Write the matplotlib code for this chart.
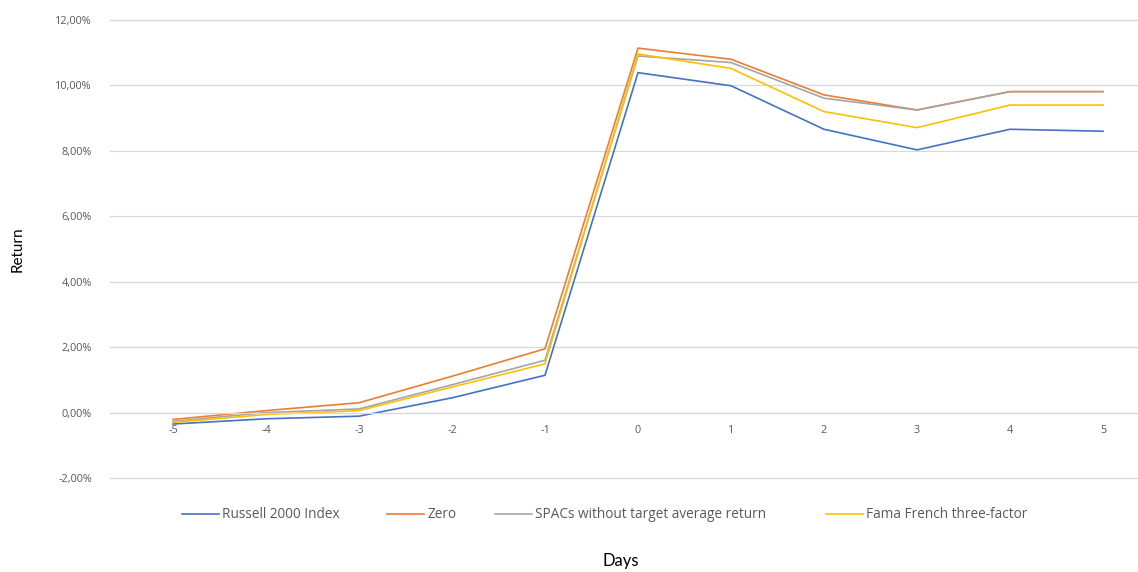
import matplotlib
matplotlib.use("Agg")
import matplotlib.pyplot as plt
from matplotlib.lines import Line2D
from matplotlib.ticker import FuncFormatter

days = [-5, -4, -3, -2, -1, 0, 1, 2, 3, 4, 5]

russell_2000 = [-0.35, -0.19, -0.11, 0.45, 1.14, 10.39, 9.99, 8.66, 8.03, 8.66, 8.60]
zero_model = [-0.21, 0.06, 0.30, 1.11, 1.95, 11.14, 10.80, 9.71, 9.25, 9.81, 9.81]
spacs_no_target = [-0.27, 0.00, 0.11, 0.85, 1.60, 10.90, 10.70, 9.61, 9.25, 9.81, 9.81]
fama_french = [-0.30, -0.06, 0.06, 0.78, 1.49, 10.96, 10.52, 9.20, 8.71, 9.40, 9.40]

series_labels = ["Russell 2000 Index", "Zero",
                 "SPACs without target average return", "Fama French three-factor"]
series_colors = ["#4472C4", "#ED7D31", "#A5A5A5", "#FFC000"]
y_ticks = [-2, 0, 2, 4, 6, 8, 10, 12]

plt.rcParams["font.family"] = ["Open Sans", "DejaVu Sans"]

fig = plt.figure(figsize=(11.38, 5.72), dpi=100)
ax = fig.add_axes([110 / 1138, (572 - 478) / 572, (1138 - 110) / 1138, (478 - 20) / 572])

for vals, lab, col in zip([russell_2000, zero_model, spacs_no_target, fama_french],
                          series_labels, series_colors):
    ax.plot(days, vals, color=col, lw=1.2, label=lab, solid_joinstyle="miter")

ax.set_xlim(-5 - 63 / 93, 5 + 35 / 93)
ax.set_ylim(-2, 12)
ax.set_yticks(y_ticks)
ax.yaxis.set_major_formatter(FuncFormatter(lambda v, p: f"{v:.2f}%".replace(".", ",")))
ax.set_xticks(days)
ax.set_xticklabels([str(d) for d in days])

ax.grid(axis="y", color="#D9D9D9", lw=0.9)
ax.set_axisbelow(True)
for gl in ax.get_ygridlines():
    gl.set_clip_on(False)
for s in ["top", "right", "left"]:
    ax.spines[s].set_visible(False)
ax.spines["bottom"].set_position(("data", 0))
ax.spines["bottom"].set_color("#D9D9D9")
ax.spines["bottom"].set_linewidth(0.9)
ax.tick_params(axis="both", length=0, labelsize=7.8, labelcolor="#595959")
ax.tick_params(axis="y", pad=13)
ax.tick_params(axis="x", pad=9)

fig.text(18 / 1138, 1 - 249 / 572, "Return", rotation=90, ha="center", va="center",
         fontsize=11, color="black", family=["Lato", "DejaVu Sans"])
fig.text(621 / 1138, 1 - 561 / 572, "Days", ha="center", va="center",
         fontsize=12, color="black", family=["Lato", "DejaVu Sans"])

# one legend entry per series, each anchored at its own left edge
entry_x = [182, 387, 495, 826]
for lab, col, x0 in zip(series_labels, series_colors, entry_x):
    h = Line2D([], [], color=col, lw=1.2)
    fig.legend([h], [lab], loc="center left", bbox_to_anchor=(x0 / 1138, 1 - 515 / 572),
               frameon=False, fontsize=9.8, handlelength=2.75, handletextpad=0.2,
               borderpad=0, borderaxespad=0, labelcolor="#595959")

fig.savefig("out.png", dpi=100, facecolor="white")
